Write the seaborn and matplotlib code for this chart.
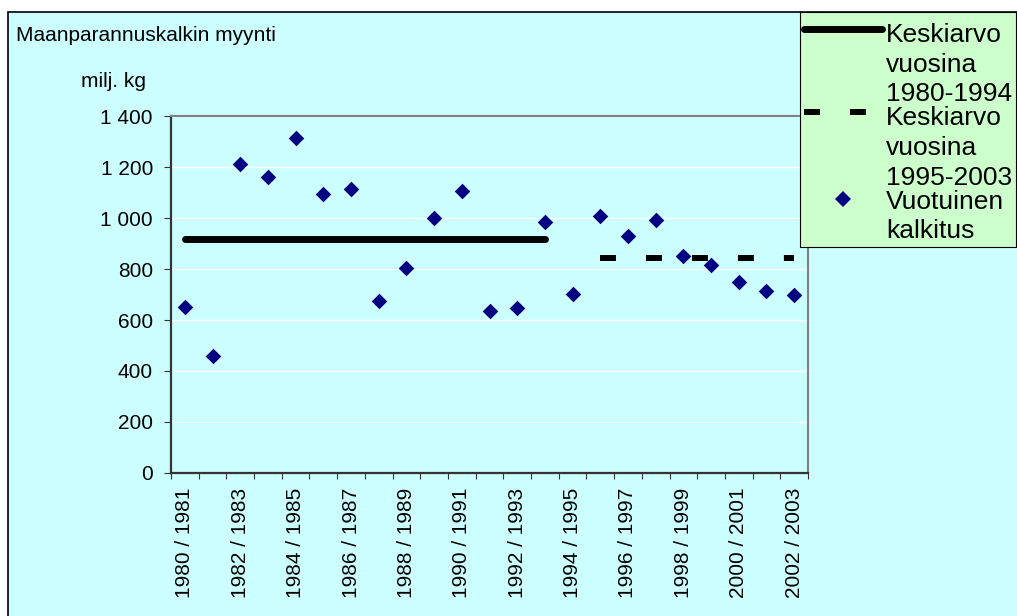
import matplotlib
matplotlib.use("Agg")
import numpy as np
import pandas as pd
import seaborn as sns
import matplotlib.pyplot as plt
import matplotlib.transforms as mtransforms
from matplotlib.lines import Line2D
from matplotlib.patches import Rectangle
from matplotlib.legend_handler import HandlerLine2D
from matplotlib.ticker import FuncFormatter

# ---------------- data ----------------
seasons = ["1980 / 1981", "1981 / 1982", "1982 / 1983", "1983 / 1984", "1984 / 1985",
           "1985 / 1986", "1986 / 1987", "1987 / 1988", "1988 / 1989", "1989 / 1990",
           "1990 / 1991", "1991 / 1992", "1992 / 1993", "1993 / 1994", "1994 / 1995",
           "1995 / 1996", "1996 / 1997", "1997 / 1998", "1998 / 1999", "1999 / 2000",
           "2000 / 2001", "2001 / 2002", "2002 / 2003"]
sales = [650, 458, 1211, 1161, 1315, 1095, 1113, 674, 804, 999, 1107, 636,
         648, 984, 703, 1009, 931, 991, 852, 817, 750, 712, 697]

avg_1980_1994 = 920
avg_1995_2003 = 844
span_1980_1994 = ["1980 / 1981", "1993 / 1994"]
span_1995_2003 = ["1995 / 1996", "2002 / 2003"]

y_ticks = [0, 200, 400, 600, 800, 1000, 1200, 1400]
label_avg1 = "Keskiarvo\nvuosina\n1980-1994"
label_avg2 = "Keskiarvo\nvuosina\n1995-2003"
label_pts = "Vuotuinen\nkalkitus"
title = "Maanparannuskalkin myynti"
unit = "milj. kg"

# ---------------- style ----------------
BG = "#CCFFFF"
LEG_BG = "#CCFFCC"
NAVY = "#000080"
DARK = "#333333"

sns.set_style("white")
plt.rcParams["font.family"] = ["Liberation Sans", "DejaVu Sans"]
plt.rcParams["lines.scale_dashes"] = False
plt.rcParams["text.color"] = "black"
plt.rcParams["xtick.labelcolor"] = "black"
plt.rcParams["ytick.labelcolor"] = "black"
plt.rcParams["axes.labelcolor"] = "black"

W, H = 1017, 616
fig = plt.figure(figsize=(W / 100, H / 100), dpi=100, facecolor="white")
fig.add_artist(Rectangle((8 / W, -0.05), 1.2, (H - 12) / H + 0.05,
                         transform=fig.transFigure, facecolor=BG,
                         edgecolor="black", lw=1.2, zorder=-10))

ax_left, ax_right = 171 / W, 808 / W
ax_bottom, ax_top = (H - 472.8) / H, (H - 116.3) / H
ax = fig.add_axes([ax_left, ax_bottom, ax_right - ax_left, ax_top - ax_bottom])
ax.set_facecolor(BG)

df = pd.DataFrame({"season": seasons, "pos": np.arange(len(seasons)), "sales": sales})

pos = {s: i for i, s in enumerate(seasons)}
line1 = pd.DataFrame({"x": [pos[s] for s in span_1980_1994],
                      "y": [avg_1980_1994] * 2})
line2 = pd.DataFrame({"x": [pos[s] for s in span_1995_2003],
                      "y": [avg_1995_2003] * 2})

DASH = (0, (11.5, 21.6))
sns.lineplot(data=line1, x="x", y="y", color="black", lw=5,
             solid_capstyle="round", ax=ax, legend=False, zorder=3)
sns.lineplot(data=line2, x="x", y="y", color="black", lw=4.3,
             ax=ax, legend=False, zorder=3)
ax.lines[-1].set_linestyle(DASH)
ax.lines[-1].set_dash_capstyle("butt")

sns.scatterplot(data=df, x="pos", y="sales", marker="D", s=63, color=NAVY,
                edgecolor=NAVY, linewidth=0, ax=ax, legend=False, zorder=4)

# ---------------- axes ----------------
ax.set_xlim(-0.5, len(seasons) - 0.5)
ax.set_ylim(y_ticks[0], y_ticks[-1])
ax.set_xlabel("")
ax.set_ylabel("")

ax.set_xticks(np.arange(0, len(seasons), 2))
ax.set_xticklabels(seasons[::2], rotation=90, fontsize=15)
ax.set_xticks(np.arange(-0.5, len(seasons), 1), minor=True)
ax.tick_params(axis="x", which="major", bottom=True, length=0, pad=10.5,
               labelsize=15, labelcolor="black")
ax.tick_params(axis="x", which="minor", bottom=True, length=4.3, width=0.8,
               color=DARK, direction="out")
ax.set_yticks(y_ticks)
ax.yaxis.set_major_formatter(FuncFormatter(lambda v, p: f"{v:,.0f}".replace(",", " ")))
ax.tick_params(axis="y", which="major", left=True, length=4.7, width=0.8,
               color=DARK, direction="out", pad=8.3, labelsize=15, labelcolor="black")

ax.yaxis.grid(True, color="white", lw=1)
ax.xaxis.grid(False)
ax.set_axisbelow(True)
for s in ["left", "bottom"]:
    ax.spines[s].set_color(DARK)
    ax.spines[s].set_linewidth(1.6)
for s in ["top", "right"]:
    ax.spines[s].set_color("#808080")
    ax.spines[s].set_linewidth(1.5)

# ---------------- texts ----------------
fig.text(16.5 / W, (H - 40.7) / H, title, fontsize=15, ha="left", va="baseline",
         color="black")
fig.text(81 / W, (H - 87) / H, unit, fontsize=15, ha="left", va="baseline",
         color="black")


# ---------------- legend ----------------
class FirstLineHandler(HandlerLine2D):
    """Place the legend handle at the first line of a multi-line label."""

    def __init__(self, shift_pt, **kw):
        super().__init__(**kw)
        self.shift_pt = shift_pt

    def create_artists(self, legend, orig_handle, xdescent, ydescent,
                       width, height, fontsize, trans):
        arts = super().create_artists(legend, orig_handle, xdescent, ydescent,
                                      width, height, fontsize, trans)
        shifted = mtransforms.Affine2D().translate(0, self.shift_pt) + trans
        for a in arts:
            a.set_transform(shifted)
        return arts


LEG_FS = 19
LINESP = 1.3
step = 0.21 * LEG_FS + 0.716 * LEG_FS * LINESP
lp_d = 0.21 * LEG_FS

h1 = Line2D([], [], color="black", lw=5, solid_capstyle="round")
h2 = Line2D([], [], color="black", lw=4.3, linestyle=DASH, dash_capstyle="butt")
h3 = Line2D([], [], ls="none", marker="D", ms=7.9, color=NAVY, mec=NAVY, mew=0)

leg = fig.legend([h1, h2, h3], [label_avg1, label_avg2, label_pts],
                 handler_map={h1: FirstLineHandler(0.5 * (2 * step + lp_d) + 2.5),
                              h2: FirstLineHandler(0.5 * (2 * step + lp_d) + 2.5),
                              h3: FirstLineHandler(0.5 * (1 * step + lp_d))},
                 loc="upper left", bbox_to_anchor=(800 / W, (H - 12) / H),
                 bbox_transform=fig.transFigure,
                 prop={"size": LEG_FS, "family": ["Liberation Sans", "DejaVu Sans"]},
                 frameon=True, fancybox=False, facecolor=LEG_BG, edgecolor="black",
                 framealpha=1, borderpad=0.15, labelspacing=0.0, handlelength=2.95,
                 handletextpad=0.15, borderaxespad=0, title=" ", title_fontsize=5,
                 labelcolor="black")
for t in leg.get_texts():
    t.set_linespacing(LINESP)
leg.get_frame().set_linewidth(0.8)

fig.savefig("out.png", dpi=100)
